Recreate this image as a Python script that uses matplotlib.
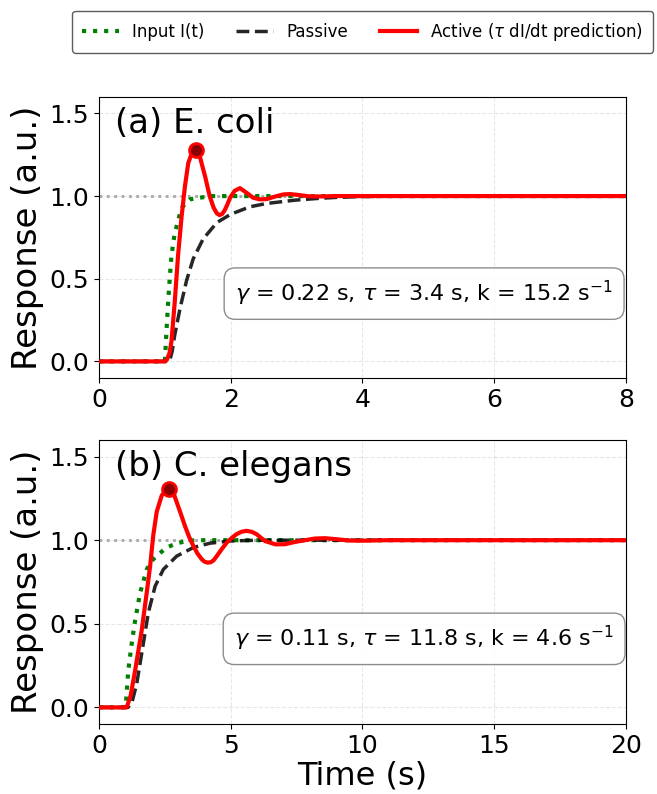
import numpy as np
import matplotlib
matplotlib.use("Agg")
import matplotlib.pyplot as plt

# ---- panel (a): E. coli ----
t_in_a = [0, 1.0, 1.025, 1.05, 1.075, 1.1, 1.14, 1.18, 1.22, 1.26, 1.32, 1.38, 1.45, 1.53, 1.7, 8.0]
in_a = [0, 0, 0.19, 0.36, 0.51, 0.64, 0.75, 0.82, 0.88, 0.93, 0.96, 0.98, 0.985, 0.99, 1.0, 1.0]

t_pas_a = [0, 1.0, 1.07, 1.11, 1.15, 1.23, 1.33, 1.43, 1.58, 1.79, 2.0, 2.29, 2.54,
           2.97, 3.3, 3.6, 4.0, 4.5, 8.0]
pas_a = [0, 0, 0.0, 0.06, 0.16, 0.32, 0.49, 0.62, 0.74, 0.84, 0.89, 0.935, 0.955,
         0.975, 0.985, 0.992, 0.997, 1.0, 1.0]

t_act_a = [0, 1.0, 1.03, 1.07, 1.10, 1.15, 1.20, 1.255, 1.305, 1.355, 1.41, 1.47, 1.53,
           1.61, 1.68, 1.74, 1.79, 1.83, 1.87, 1.91, 1.95, 1.99, 2.06, 2.14, 2.24, 2.34, 2.44,
           2.55, 2.68, 2.80, 2.90, 3.0, 3.2, 3.4, 3.6, 4.0, 8.0]
act_a = [0, 0, 0.01, 0.05, 0.12, 0.36, 0.64, 0.88, 1.06, 1.20, 1.26, 1.28, 1.24,
         1.12, 1.0, 0.93, 0.895, 0.885, 0.892, 0.915, 0.95, 0.99, 1.032, 1.048, 1.02, 0.99, 0.98,
         0.982, 0.998, 1.01, 1.012, 1.008, 0.998, 0.998, 1.0, 1.0, 1.0]

# ---- panel (b): C. elegans ----
t_in_b = [0, 1.0, 1.02, 1.11, 1.24, 1.37, 1.56, 1.81, 1.99, 2.25, 2.57, 2.95, 3.45, 4.0, 20.0]
in_b = [0, 0, 0.02, 0.22, 0.38, 0.52, 0.685, 0.825, 0.875, 0.915, 0.956, 0.982, 0.998, 1.0, 1.0]

t_pas_b = [0, 1.1, 1.25, 1.43, 1.68, 1.87, 2.13, 2.44, 2.95, 3.58, 4.21, 4.97, 6.0, 20.0]
pas_b = [0, 0, 0.03, 0.14, 0.38, 0.565, 0.725, 0.825, 0.905, 0.956, 0.982, 0.995, 1.0, 1.0]

t_act_b = [0, 1.05, 1.2, 1.37, 1.62, 1.81, 1.94, 2.06, 2.19, 2.38, 2.52, 2.67, 2.82, 2.95,
           3.1, 3.26, 3.42, 3.58, 3.74, 3.90, 4.00, 4.12, 4.24, 4.35, 4.47, 4.65, 4.85, 5.05,
           5.22, 5.4, 5.6, 5.8, 5.98, 6.3, 6.7, 7.06, 7.45, 7.82, 8.2, 8.58, 9.0, 9.5, 10.0,
           11.0, 20.0]
act_b = [0, 0, 0.07, 0.22, 0.46, 0.685, 0.845, 1.03, 1.17, 1.267, 1.297, 1.307, 1.285, 1.227,
         1.16, 1.086, 1.02, 0.966, 0.92, 0.886, 0.872, 0.866, 0.868, 0.88, 0.905, 0.945, 0.986, 1.015,
         1.036, 1.05, 1.056, 1.05, 1.036, 0.995, 0.975, 0.976, 0.99, 1.0, 1.01, 1.012, 1.006, 0.998,
         0.997, 1.0, 1.0]

panels = [
    ("(a) E. coli", t_in_a, in_a, t_pas_a, pas_a, t_act_a, act_a, 8, [0, 2, 4, 6, 8],
     r"$\gamma$ = 0.22 s, $\tau$ = 3.4 s, k = 15.2 s$^{-1}$"),
    ("(b) C. elegans", t_in_b, in_b, t_pas_b, pas_b, t_act_b, act_b, 20, [0, 5, 10, 15, 20],
     r"$\gamma$ = 0.11 s, $\tau$ = 11.8 s, k = 4.6 s$^{-1}$"),
]

fig = plt.figure(figsize=(6.57, 7.94), dpi=100)
ax_a = fig.add_axes([0.1507, 0.524, 0.802, 0.354])
ax_b = fig.add_axes([0.1507, 0.088, 0.802, 0.358])

for ax, (title, ti, yi, tp, yp, ta, ya, xmax, xt, note) in zip([ax_a, ax_b], panels):
    ax.axhline(1.0, color="gray", ls=":", lw=2, alpha=0.7, zorder=1)
    ax.plot(ti, yi, color="green", ls=":", lw=3, label="Input I(t)", zorder=2)
    ax.plot(tp, yp, color="black", ls="--", lw=2.5, alpha=0.85, label="Passive", zorder=3)
    ax.plot(ta, ya, color="red", lw=3, label=r"Active ($\tau$ dI/dt prediction)", zorder=4)
    k = int(np.argmax(ya))
    ax.plot(ta[k], ya[k], "o", ms=10, mfc="darkred", mec="red", mew=2, zorder=5)
    ax.set_xlim(0, xmax)
    ax.set_ylim(-0.1, 1.6)
    ax.set_xticks(xt)
    ax.set_yticks([0.0, 0.5, 1.0, 1.5])
    ax.tick_params(labelsize=18)
    ax.grid(True, ls="--", alpha=0.3)
    ax.set_ylabel("Response (a.u.)", fontsize=24.5)
    ax.text(0.03, 0.965, title, transform=ax.transAxes, fontsize=24.5, va="top", ha="left")
    ax.text(0.617, 0.30, note, transform=ax.transAxes, fontsize=16, ha="center", va="center",
            bbox=dict(boxstyle="round,pad=0.5", facecolor="white", edgecolor="gray", alpha=0.9))

ax_b.set_xlabel("Time (s)", fontsize=23, labelpad=2)

handles, labels = ax_a.get_legend_handles_labels()
leg = fig.legend(handles, labels, loc="upper center", bbox_to_anchor=(0.552, 0.997), ncol=3,
                 fontsize=12, borderpad=0.6, columnspacing=1.9, handlelength=2.2, frameon=True)
leg.get_frame().set_edgecolor("0.2")

fig.savefig("out.png", dpi=100)
